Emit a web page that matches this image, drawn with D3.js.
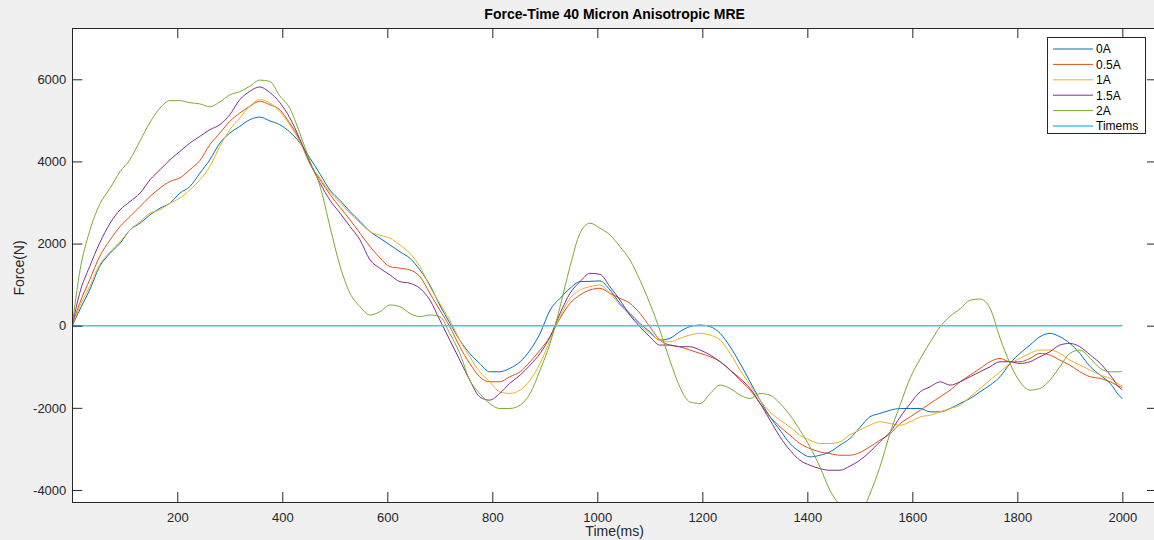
<!DOCTYPE html>
<html><head><meta charset="utf-8">
<script src="https://cdn.jsdelivr.net/npm/d3@7"></script>
<style>
body{margin:0;background:#f0f0f0;}
svg{display:block;font-family:"Liberation Sans",Arial,Helvetica,sans-serif;}
</style></head><body>
<svg id="chart" width="1154" height="540"></svg>
<script>
// ---- data ----
const time = [0,14,33,52,72,91,110,129,148,167,186,205,224,243,262,281,300,319,338,357,376,395,414,433,452,472,491,510,529,548,567,586,605,624,643,662,681,700,719,738,757,776,795,814,833,853,872,891,910,929,948,967,986,1005,1024,1043,1062,1081,1100,1119,1138,1157,1176,1196,1215,1234,1253,1272,1291,1310,1329,1348,1367,1386,1405,1424,1443,1462,1481,1500,1519,1538,1558,1577,1596,1615,1634,1653,1672,1691,1710,1729,1748,1767,1786,1805,1824,1843,1862,1881,1900,1919,1939,1958,1977,1996,2000];

const force0A = [0,
 382,870,1439,1764,2008,2333,2496,2699,2862,2984,3228,3390,3715,4041,4447,4691,4854,5016,5080,4990,4895,4720,4460,4095,3690,3300,3050,
 2780,2540,2293,2130,1967,1800,1642,1358,990,500,65,-350,-675,-919,-1122,-1122,-1041,-878,-593,-187,382,667,911,1073,
 1080,1090,870,545,301,57,-146,-350,-309,-146,-24,16,-24,-187,-512,-919,-1366,-1813,-2220,-2545,-2870,-3073,-3195,-3154,-3073,-2911,
 -2748,-2480,-2220,-2138,-2057,-2016,-2016,-2016,-2098,-2098,-2016,-1894,-1772,-1610,-1447,-1244,-919,-675,-472,-268,-187,-268,-431,-675,-1000,-1203,-1407,-1732,
 -1772];

const force05A = [0,
 545,1114,1683,2089,2415,2659,2902,3146,3350,3512,3600,3800,4020,4407,4691,4976,5179,5341,5463,5382,5260,4935,4528,3959,3553,3190,2880,
 2577,2250,1927,1650,1439,1400,1358,1195,789,382,-24,-512,-919,-1244,-1366,-1366,-1244,-1122,-878,-593,-268,179,545,748,
 870,910,789,667,545,301,-24,-350,-472,-512,-593,-675,-756,-878,-1081,-1325,-1569,-1894,-2220,-2463,-2667,-2870,-2992,-3073,-3114,-3154,
 -3154,-3090,-2951,-2789,-2626,-2382,-2220,-2057,-1894,-1732,-1569,-1366,-1203,-1041,-878,-797,-878,-878,-797,-675,-715,-837,-959,-1122,-1244,-1285,-1366,-1488,
 -1500];

const force1A = [0,
 463,951,1480,1805,2049,2333,2537,2740,2821,2984,3106,3309,3553,3878,4366,4772,5057,5341,5504,5423,5220,4894,4488,3959,3593,3250,3000,
 2740,2500,2293,2200,2130,1967,1764,1439,951,545,138,-350,-756,-1122,-1366,-1610,-1650,-1569,-1325,-919,-350,220,667,870,
 950,990,789,504,260,16,-187,-350,-390,-309,-228,-187,-228,-350,-675,-1081,-1447,-1813,-2098,-2301,-2463,-2667,-2789,-2870,-2870,-2829,
 -2660,-2540,-2423,-2341,-2382,-2423,-2341,-2220,-2179,-2098,-2016,-1935,-1732,-1528,-1325,-1122,-919,-797,-675,-593,-593,-675,-837,-959,-1081,-1203,-1285,-1447,
 -1470];

const force15A = [0,
 790,1439,2008,2496,2821,3024,3228,3553,3797,4041,4244,4447,4610,4772,4894,5138,5504,5707,5813,5680,5436,5070,4555,3985,3470,3050,2740,
 2415,2089,1602,1398,1236,1073,1033,911,626,138,-350,-837,-1325,-1732,-1813,-1650,-1407,-1203,-959,-675,-268,301,789,1073,
 1276,1250,951,626,260,-24,-268,-472,-472,-512,-512,-593,-715,-878,-1081,-1285,-1528,-1894,-2301,-2707,-3033,-3276,-3398,-3480,-3520,-3520,
 -3420,-3276,-3073,-2829,-2585,-2220,-1894,-1610,-1488,-1366,-1447,-1366,-1244,-1122,-1000,-878,-878,-919,-878,-756,-634,-472,-431,-512,-715,-919,-1203,-1528,
 -1560];

const force2A = [0,
 1300,2300,2950,3350,3750,4050,4500,4950,5300,5480,5480,5430,5400,5330,5450,5620,5700,5830,5980,5950,5600,5300,4700,4030,3390,2400,1450,
 789,463,260,341,504,463,301,220,260,220,-187,-675,-1325,-1650,-1894,-2016,-2016,-1935,-1650,-1081,-431,463,1439,2252,
 2496,2374,2211,1927,1602,1114,545,-106,-837,-1488,-1854,-1894,-1650,-1447,-1528,-1691,-1772,-1650,-1691,-1894,-2179,-2545,-2951,-3439,-4008,-4370,
 -4650,-4600,-4100,-3450,-2600,-1920,-1270,-810,-400,-24,230,410,620,650,423,-300,-919,-1366,-1569,-1528,-1325,-1000,-675,-593,-797,-1041,-1122,-1122,
 -1100];

const timemsTime = [0, 2000];
const timemsValues = [0, 0];

const seriesNames = ["0A","0.5A","1A","1.5A","2A","Timems"];
const seriesColors = ["#0072BD","#D95319","#EDB120","#7E2F8E","#77AC30","#4DBEEE"];
const xTicks = [200,400,600,800,1000,1200,1400,1600,1800,2000];
const yTicks = [-4000,-2000,0,2000,4000,6000];
const titleText = "Force-Time 40 Micron Anisotropic MRE";
const xLabel = "Time(ms)";
const yLabel = "Force(N)";

// ---- layout ----
const L = 72.3, R = 1157, T = 28, B = 502;
const x = d3.scaleLinear().domain([0, 2066]).range([L, R]);
const y = d3.scaleLinear().domain([-4293, 7249]).range([B, T]);
const axisColor = "#262626";
const fmt = d => String(d);

const svg = d3.select("#chart");
svg.append("rect").attr("x",L).attr("y",T).attr("width",R-L).attr("height",B-T).attr("fill","#fff");

svg.append("defs").append("clipPath").attr("id","clip")
  .append("rect").attr("x",L).attr("y",T).attr("width",R-L).attr("height",B-T);

const series = [
  {name:seriesNames[0], t:time, v:force0A},
  {name:seriesNames[1], t:time, v:force05A},
  {name:seriesNames[2], t:time, v:force1A},
  {name:seriesNames[3], t:time, v:force15A},
  {name:seriesNames[4], t:time, v:force2A},
  {name:seriesNames[5], t:timemsTime, v:timemsValues}
];

const line = d3.line().x(d=>x(d[0])).y(d=>y(d[1])).curve(d3.curveMonotoneX);
const g = svg.append("g").attr("clip-path","url(#clip)");
series.forEach((s,i)=>{
  const pts = s.t.map((t,j)=>[t, s.v[j]]);
  g.append("path").datum(pts).attr("d",line)
    .attr("fill","none").attr("stroke",seriesColors[i])
    .attr("stroke-width", i===5 ? 1.6 : 1).attr("stroke-linejoin","round");
});

// axes
function styleAxis(sel){
  sel.select(".domain").remove();
  sel.selectAll(".tick line").attr("stroke",axisColor);
  sel.selectAll(".tick text").attr("fill",axisColor).style("font-size","13px")
     .style("font-family",'"Liberation Sans",Arial,sans-serif');
}
svg.append("g").attr("transform",`translate(0,${B})`)
  .call(d3.axisBottom(x).tickValues(xTicks).tickSizeInner(-10).tickSizeOuter(0).tickPadding(11).tickFormat(fmt))
  .call(styleAxis);
svg.append("g").attr("transform",`translate(0,${T})`)
  .call(d3.axisTop(x).tickValues(xTicks).tickSizeInner(-10).tickSizeOuter(0).tickFormat(""))
  .call(styleAxis);
svg.append("g").attr("transform",`translate(${L},0)`)
  .call(d3.axisLeft(y).tickValues(yTicks).tickSizeInner(-10).tickSizeOuter(0).tickPadding(6).tickFormat(fmt))
  .call(styleAxis);
svg.append("g").attr("transform",`translate(${R},0)`)
  .call(d3.axisRight(y).tickValues(yTicks).tickSizeInner(-10).tickSizeOuter(0).tickFormat(""))
  .call(styleAxis);

svg.append("rect").attr("x",L).attr("y",T).attr("width",R-L).attr("height",B-T)
  .attr("fill","none").attr("stroke",axisColor).attr("stroke-width",1).attr("shape-rendering","crispEdges");

// title & labels
svg.append("text").attr("x",(L+R)/2).attr("y",19).attr("text-anchor","middle")
  .style("font-size","14px").style("font-weight","bold").attr("fill","#000").text(titleText);
svg.append("text").attr("x",(L+R)/2).attr("y",536).attr("text-anchor","middle")
  .style("font-size","14px").attr("fill",axisColor).text(xLabel);
svg.append("text").attr("transform","translate(24,268) rotate(-90)").attr("text-anchor","middle")
  .style("font-size","14px").attr("fill",axisColor).text(yLabel);

// legend
const lg = svg.append("g");
lg.append("rect").attr("x",1047).attr("y",37).attr("width",98).attr("height",96)
  .attr("fill","#fff").attr("stroke",axisColor).attr("stroke-width",1).attr("shape-rendering","crispEdges");
seriesNames.forEach((n,i)=>{
  const yy = 49 + i*15.4;
  lg.append("line").attr("x1",1053).attr("x2",1093).attr("y1",yy).attr("y2",yy)
    .attr("stroke",seriesColors[i]).attr("stroke-width", i===5 ? 1.6 : 1);
  lg.append("text").attr("x",1096).attr("y",yy+4.3).style("font-size","12px")
    .attr("fill","#000").text(n);
});
</script>
</body></html>
